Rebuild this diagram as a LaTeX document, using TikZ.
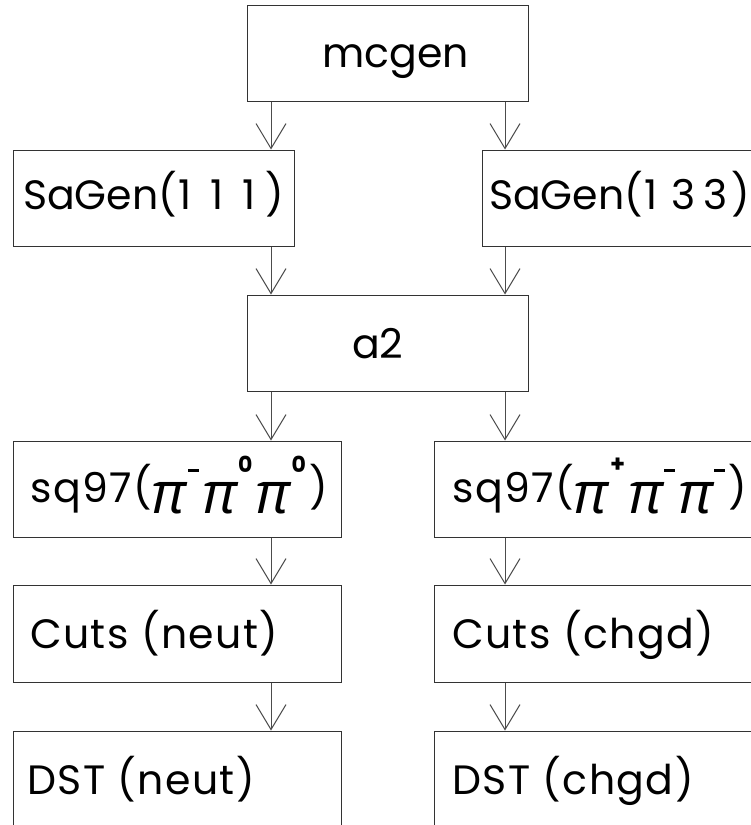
\documentclass[tikz,border=0pt]{standalone}
\usepackage{fontspec}
\setmainfont{Poppins}
\newfontfamily\grkfont{Open Sans}
\usetikzlibrary{arrows.meta}
% a pion symbol with its small raised charge mark
\newcommand{\pis}[1]{\raisebox{-11pt}{\fontsize{58}{58}\selectfont\grkfont\itshape π}\kern1pt\raisebox{30pt}{#1}\kern3pt}
\newcommand{\chgm}{\rule{11pt}{2.6pt}}
\newcommand{\chgz}{{\fontsize{22}{22}\selectfont\bfseries 0}}
\newcommand{\chgp}{{\fontsize{24}{24}\selectfont\bfseries +}}
% widely set digits of a run number
\newcommand{\dig}[1]{\makebox[32pt]{#1}}
\newcommand{\runno}[3]{(\hspace{-8pt}\dig{#1}\dig{#2}\dig{#3})}
\tikzset{
  x=1pt, y=-1pt,
  stage/.style={draw=black!80, line width=1pt, rectangle, inner sep=0pt},
  lbl/.style={inner sep=0pt, anchor=base west, font=\fontsize{41}{41}\selectfont},
  wide/.style={lbl, font=\fontsize{41}{41}\selectfont\addfontfeatures{LetterSpace=3.5}},
  flow/.style={draw=black!70, line width=1pt, -{Straight Barb[length=25pt,width=30pt]}}
}
\begin{document}
\begin{tikzpicture}
\useasboundingbox (0,0) rectangle (751,825);
\clip (0,0) rectangle (751,825);
\fill[white] (0,0) rectangle (751,825);

% columns of the two processing chains
\coordinate (colL) at (271,0);
\coordinate (colR) at (505,0);

% stage boxes
\node[stage, minimum width=281pt, minimum height=96pt] (mcgen)  at (387.5,53)  {};
\node[stage, minimum width=281pt, minimum height=96pt] (sagenL) at (153.5,198) {};
\node[stage, minimum width=281pt, minimum height=96pt] (sagenR) at (622.5,198) {};
\node[stage, minimum width=281pt, minimum height=96pt] (a2)     at (387.5,343) {};
\node[stage, minimum width=328pt, minimum height=96pt] (sqL)    at (177,489)   {};
\node[stage, minimum width=328pt, minimum height=96pt] (sqR)    at (598,489)   {};
\node[stage, minimum width=328pt, minimum height=97pt] (cutsL)  at (177,633.5) {};
\node[stage, minimum width=328pt, minimum height=97pt] (cutsR)  at (598,633.5) {};
\node[stage, minimum width=328pt, minimum height=96pt] (dstL)   at (177,779)   {};
\node[stage, minimum width=328pt, minimum height=96pt] (dstR)   at (598,779)   {};

% box texts
\node[lbl]  (tmcgen)  at (322,67)  {mcgen};
\node[lbl]  (tsagenL) at (23,209)  {SaGen\runno{1}{1}{1}};
\node[lbl]  (tsagenR) at (489,209) {SaGen\runno{1}{3}{3}};
\node[lbl]  (ta2)     at (352,358) {a2};
\node[wide] (tsqL)    at (30,502)  {sq97(\pis{\chgm}\pis{\chgz}\pis{\chgz})};
\node[wide] (tsqR)    at (452,502) {sq97(\pis{\chgp}\pis{\chgm}\pis{\chgm})};
\node[wide] (tcutsL)  at (30,648)  {Cuts (neut)};
\node[wide] (tcutsR)  at (452,648) {Cuts (chgd)};
\node[wide] (tdstL)   at (27,794)  {DST (neut)};
\node[wide] (tdstR)   at (452,794) {DST (chgd)};

% flow arrows
\draw[flow] (mcgen.south -| colL)  -- (sagenL.north -| colL);
\draw[flow] (mcgen.south -| colR)  -- (sagenR.north -| colR);
\draw[flow] (sagenL.south -| colL) -- (a2.north -| colL);
\draw[flow] (sagenR.south -| colR) -- (a2.north -| colR);
\draw[flow] (a2.south -| colL)     -- (sqL.north -| colL);
\draw[flow] (a2.south -| colR)     -- (sqR.north -| colR);
\draw[flow] (sqL.south -| colL)    -- (cutsL.north -| colL);
\draw[flow] (sqR.south -| colR)    -- (cutsR.north -| colR);
\draw[flow] (cutsL.south -| colL)  -- (dstL.north -| colL);
\draw[flow] (cutsR.south -| colR)  -- (dstR.north -| colR);
\end{tikzpicture}
\end{document}
